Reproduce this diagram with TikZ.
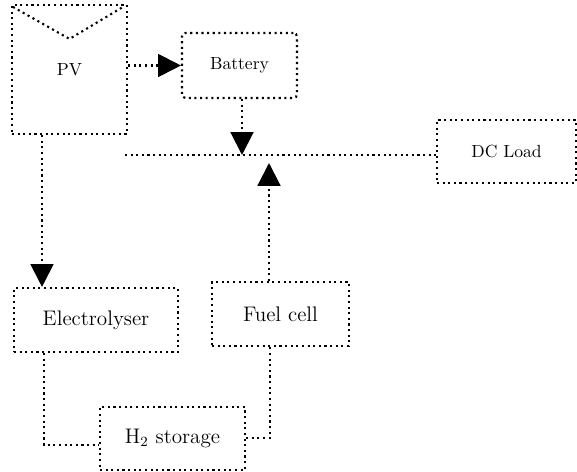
\documentclass[tikz,border=0pt]{standalone}
\usepackage{tikz}
\usetikzlibrary{arrows.meta}

\begin{document}
\begin{tikzpicture}[
  block/.style={draw, dotted, line width=1.2pt, inner sep=0pt},
  link/.style={dotted, line width=1.2pt},
]
\tikzset{>={Triangle[length=13pt, width=13pt]}}
\useasboundingbox (0,0) rectangle (11.54,9.44);

  % Nodes
  \node[block, minimum width=2.30cm, minimum height=2.58cm] (PV) at (1.39, 8.05) {PV};
  \node[block, rounded corners=2pt, minimum width=2.30cm, minimum height=1.30cm] (Bat) at (4.79, 8.13) {Battery};
  \node[block, minimum width=2.78cm, minimum height=1.26cm] (Load) at (10.13, 6.41) {DC Load};
  \node[block, minimum width=3.28cm, minimum height=1.28cm, font=\large] (Ely) at (1.92, 3.04) {Electrolyser};
  \node[block, minimum width=2.74cm, minimum height=1.28cm, font=\large] (FC) at (5.61, 3.16) {Fuel cell};
  \node[block, minimum width=2.90cm, minimum height=1.26cm, font=\large] (H2) at (3.45, 0.67) {H$_2$ storage};

  % Bus
  \coordinate (busL) at (2.50, 6.34);
  \coordinate (busB) at (4.84, 6.34);
  \coordinate (busF) at (5.38, 6.18);
  \draw[link] (busL) -- (Load.west |- busL);

  % PV panel mark
  \draw[link] ([shift={(0.04,-0.06)}]PV.north west) -- ([yshift=-0.7cm]PV.north)
    -- ([shift={(-0.10,-0.06)}]PV.north east);

  % Edges
  \draw[link, ->] (PV.east |- Bat.west) -- (Bat.west);
  \draw[link, ->] (Bat.south -| busB) -- (busB);
  \draw[link, ->] (FC.north -| busF) -- (busF);
  \draw[link, ->] (PV.south -| 0.84,0) -- (Ely.north -| 0.84,0);
  \draw[link] (Ely.south -| 0.88,0) |- (H2.west |- 0,0.54);
  \draw[link] (H2.east |- 0,0.68) -| (FC.south -| 5.40,0);
\end{tikzpicture}
\end{document}
